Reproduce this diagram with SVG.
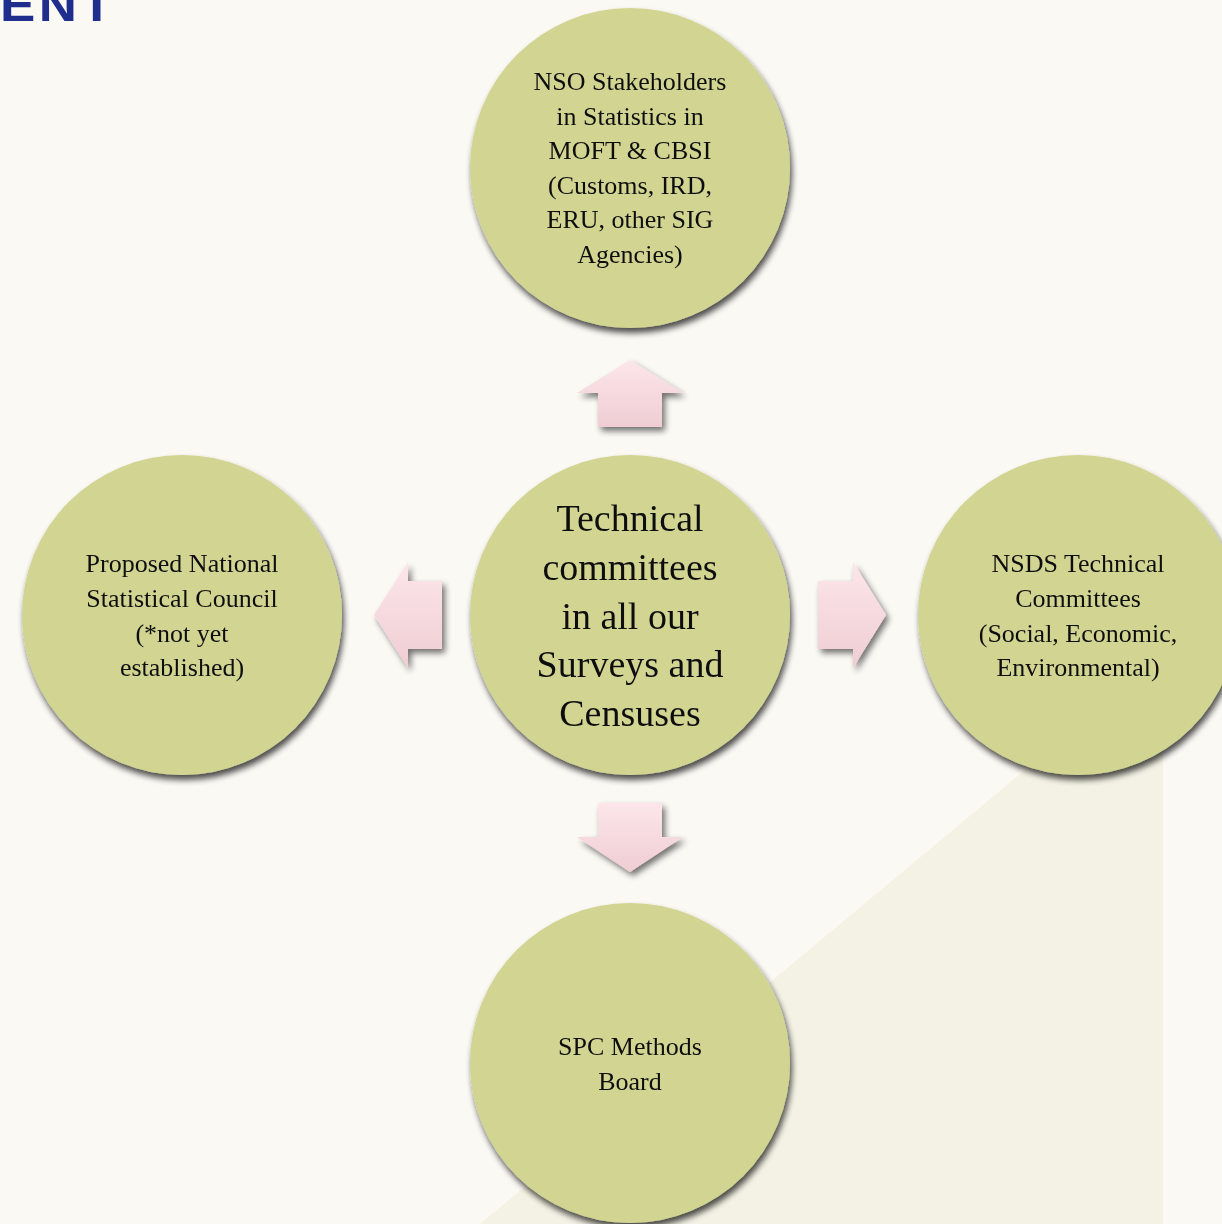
<svg xmlns="http://www.w3.org/2000/svg" width="1222" height="1224" viewBox="0 0 1222 1224">
<style>
.node{fill:#D2D592}
.t{font-family:"Liberation Serif","Times New Roman",serif;font-size:26px;fill:#111;text-anchor:middle}
.big{font-size:38px}
.arr{fill:url(#pink)}
</style>
<defs>
<linearGradient id="pink" x1="0" y1="0" x2="0" y2="1">
<stop offset="0" stop-color="#FCE6EA"/>
<stop offset="1" stop-color="#EFCDD3"/>
</linearGradient>
<filter id="sh" x="-20%" y="-20%" width="140%" height="140%">
<feGaussianBlur in="SourceAlpha" stdDeviation="3"/>
<feOffset dx="2" dy="5" result="b"/>
<feComponentTransfer><feFuncA type="linear" slope="0.7"/></feComponentTransfer>
<feMerge><feMergeNode/><feMergeNode in="SourceGraphic"/></feMerge>
</filter>
<filter id="ash" x="-30%" y="-30%" width="160%" height="160%">
<feGaussianBlur in="SourceAlpha" stdDeviation="3"/>
<feOffset dx="3" dy="4" result="b"/>
<feComponentTransfer><feFuncA type="linear" slope="0.55"/></feComponentTransfer>
<feMerge><feMergeNode/><feMergeNode in="SourceGraphic"/></feMerge>
</filter>
</defs>
<rect width="1222" height="1224" fill="#FBF9F4"/>
<polygon points="480,1224 1163,655 1163,1224" fill="#F3F2E4"/>
<text x="0" y="21" transform="scale(1.15,1)" font-family="Liberation Sans,Arial,sans-serif" font-weight="bold" font-size="46" letter-spacing="3" fill="#1F2D8C">ENT</text>

<g id="connectors" filter="url(#ash)">
<polygon class="arr" points="630,360 683,393 662,393 662,427 598,427 598,393 577,393"/>
<polygon class="arr" points="374,615 408,562 408,581 442,581 442,649 408,649 408,668"/>
<polygon class="arr" points="886,615 853,562 853,581 818,581 818,649 853,649 853,668"/>
<polygon class="arr" points="630,872 683,837 662,837 662,803 598,803 598,837 577,837"/>
</g>

<g id="node-top" filter="url(#sh)">
<circle class="node" cx="630" cy="168" r="160"/>
<text class="t" x="630" y="90">NSO Stakeholders</text>
<text class="t" x="630" y="125">in Statistics in</text>
<text class="t" x="630" y="159">MOFT &amp; CBSI</text>
<text class="t" x="630" y="194">(Customs, IRD,</text>
<text class="t" x="630" y="228">ERU, other SIG</text>
<text class="t" x="630" y="263">Agencies)</text>
</g>

<g id="node-left" filter="url(#sh)">
<circle class="node" cx="182" cy="615" r="160"/>
<text class="t" x="182" y="572">Proposed National</text>
<text class="t" x="182" y="607">Statistical Council</text>
<text class="t" x="182" y="642">(*not yet</text>
<text class="t" x="182" y="676">established)</text>
</g>

<g id="node-center" filter="url(#sh)">
<circle class="node" cx="630" cy="615" r="160"/>
<text class="t big" x="630" y="531">Technical</text>
<text class="t big" x="630" y="580">committees</text>
<text class="t big" x="630" y="629">in all our</text>
<text class="t big" x="630" y="677">Surveys and</text>
<text class="t big" x="630" y="726">Censuses</text>
</g>

<g id="node-right" filter="url(#sh)">
<circle class="node" cx="1078" cy="615" r="160"/>
<text class="t" x="1078" y="572">NSDS Technical</text>
<text class="t" x="1078" y="607">Committees</text>
<text class="t" x="1078" y="642">(Social, Economic,</text>
<text class="t" x="1078" y="676">Environmental)</text>
</g>

<g id="node-bottom" filter="url(#sh)">
<circle class="node" cx="630" cy="1063" r="160"/>
<text class="t" x="630" y="1055">SPC Methods</text>
<text class="t" x="630" y="1090">Board</text>
</g>
</svg>
